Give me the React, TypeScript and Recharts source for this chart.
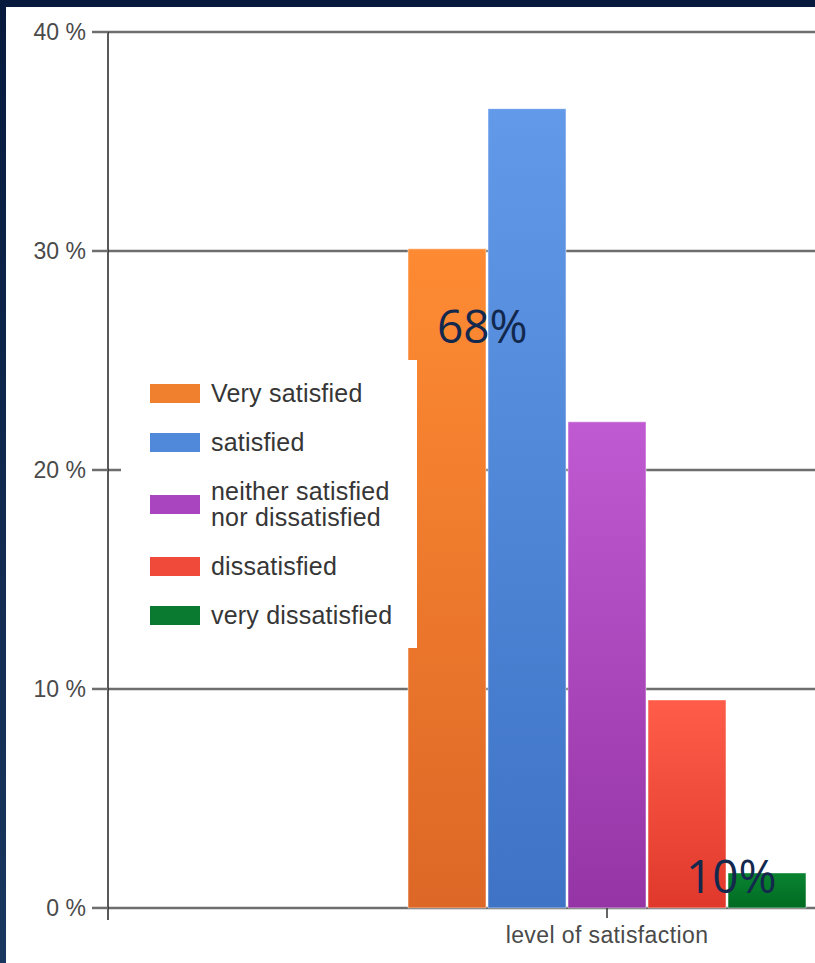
import { BarChart, Bar, XAxis, YAxis, CartesianGrid, Legend } from "recharts";

// survey result, one category with five answer groups (percent of respondents)
const category = "level of satisfaction";
const seriesKeys = ["verySatisfied", "satisfied", "neither", "dissatisfied", "veryDissatisfied"];
const seriesNames = ["Very satisfied", "satisfied", "neither satisfied nor dissatisfied", "dissatisfied", "very dissatisfied"];
const seriesValues = [30.1, 36.5, 22.2, 9.5, 1.6];
const yTicks = [0, 10, 20, 30, 40];

// overlay call-outs pasted on the slide
const calloutTexts = ["68%", "10%"];

const topColors = ["#fe8b33", "#6299e8", "#c05ad2", "#ff5d4a", "#0a8431"];
const bottomColors = ["#dd6726", "#3e73c5", "#9535a5", "#e0392c", "#006a22"];
const swatchColors = ["#f07f2e", "#5088da", "#aa45c0", "#ef4a3a", "#0a7a30"];

const data = [
  seriesKeys.reduce((row: Record<string, string | number>, key, i) => {
    row[key] = seriesValues[i];
    return row;
  }, { name: category }),
];

const tickFont = { fontFamily: "'Liberation Sans', Arial, sans-serif", fontSize: 23, fill: "#4a4a4a" };

function CategoryTick({ x, y, payload }: any) {
  return (
    <g>
      <line x1={x} x2={x} y1={y - 12} y2={y - 2} stroke="#333" strokeWidth={1.5} />
      <text x={x} y={y + 23} textAnchor="middle" letterSpacing={0.4} {...tickFont}>
        {payload.value}
      </text>
    </g>
  );
}

function LegendBox() {
  return (
    <div
      style={{
        width: 296,
        height: 288,
        background: "#fff",
        boxSizing: "border-box",
        paddingTop: 20,
        fontFamily: "'Liberation Sans', Arial, sans-serif",
        fontSize: 25,
        lineHeight: "26px",
        color: "#363636",
      }}
    >
      {seriesNames.map((name, i) => (
        <div key={name} style={{ display: "flex", alignItems: "center", marginBottom: 23 }}>
          <div style={{ width: 50, height: 19, background: swatchColors[i], marginLeft: 29, marginRight: 11, flexShrink: 0 }} />
          <div style={{ width: 196, letterSpacing: 0.2 }}>{name}</div>
        </div>
      ))}
    </div>
  );
}

export default function App() {
  return (
    <div
      style={{
        position: "absolute",
        left: 0,
        top: 0,
        width: 815,
        height: 963,
        overflow: "hidden",
        background: "linear-gradient(180deg, #071a3e 0%, #19375f 100%)",
      }}
    >
      <div style={{ position: "absolute", left: 6, top: 7, width: 809, height: 956, background: "#fff", overflow: "hidden" }}>
        <BarChart
          width={1100}
          height={956}
          data={data}
          margin={{ top: 25, right: 0, left: 0, bottom: 3 }}
          barGap={2}
        >
          <defs>
            {seriesKeys.map((key, i) => (
              <linearGradient key={key} id={`grad-${key}`} x1="0" y1="0" x2="0" y2="1">
                <stop offset="0%" stopColor={topColors[i]} />
                <stop offset="100%" stopColor={bottomColors[i]} />
              </linearGradient>
            ))}
          </defs>
          <CartesianGrid vertical={false} horizontalValues={yTicks} stroke="#6e6e6e" strokeWidth={2.5} />
          <XAxis
            dataKey="name"
            height={40}
            axisLine={{ stroke: "transparent" }}
            tickLine={false}
            tickSize={0}
            tickMargin={0}
            tick={<CategoryTick />}
          />
          <YAxis
            type="number"
            domain={[-0.55, 40]}
            ticks={yTicks}
            width={102}
            axisLine={{ stroke: "#222", strokeWidth: 1.5 }}
            tickLine={{ stroke: "#6e6e6e", strokeWidth: 2.5 }}
            tickSize={16}
            tickMargin={6}
            tick={tickFont}
            tickFormatter={(v: number) => `${v} %`}
          />
          <Legend
            layout="vertical"
            align="center"
            verticalAlign="middle"
            content={() => <LegendBox />}
            wrapperStyle={{ left: 115, top: 353, width: 296, height: 288 }}
          />
          {seriesKeys.map((key, i) => (
            <Bar
              key={key}
              dataKey={key}
              name={seriesNames[i]}
              barSize={78}
              fill={`url(#grad-${key})`}
              stroke="#ffffff"
              strokeOpacity={0.5}
              strokeWidth={1}
              isAnimationActive={false}
            />
          ))}
        </BarChart>
        <svg width={809} height={956} style={{ position: "absolute", left: 0, top: 0, pointerEvents: "none" }}>
          <text x={431} y={336} fontFamily="'Open Sans', sans-serif" fontSize={46} fill="#13284d">
            {calloutTexts[0]}
          </text>
          <text x={680} y={886} fontFamily="'Open Sans', sans-serif" fontSize={46} fill="#13284d">
            {calloutTexts[1]}
          </text>
        </svg>
      </div>
    </div>
  );
}
